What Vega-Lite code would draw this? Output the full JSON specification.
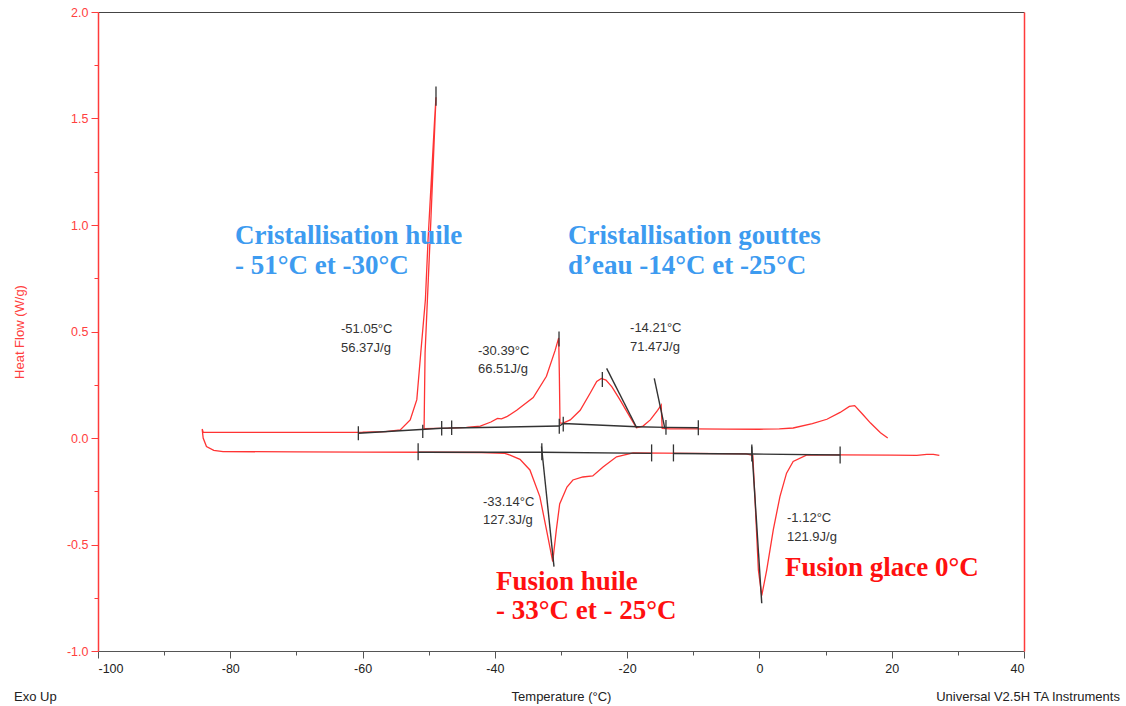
{
  "$schema": "https://vega.github.io/schema/vega-lite/v6.json",
  "width": 926,
  "height": 639,
  "autosize": "none",
  "padding": {"left": 98, "top": 12, "right": 102, "bottom": 55},
  "background": "white",
  "config": {"view": {"stroke": null}, "axis": {"grid": false}},
  "datasets": {
    "dsc": [
      {"o":0,"t":19.4,"v":0.0},{"o":1,"t":18.3,"v":0.025},{"o":2,"t":16.8,"v":0.07},{"o":3,"t":15.5,"v":0.115},
      {"o":4,"t":14.4,"v":0.152},{"o":5,"t":13.6,"v":0.148},{"o":6,"t":12.2,"v":0.12},{"o":7,"t":10.2,"v":0.088},
      {"o":8,"t":8.0,"v":0.068},{"o":9,"t":5.1,"v":0.047},{"o":10,"t":3.0,"v":0.043},{"o":11,"t":0.0,"v":0.041},
      {"o":12,"t":-5.0,"v":0.042},{"o":13,"t":-10.0,"v":0.043},{"o":14,"t":-13.5,"v":0.043},{"o":15,"t":-14.7,"v":0.045},
      {"o":16,"t":-14.78,"v":0.1},{"o":17,"t":-14.85,"v":0.155},{"o":18,"t":-15.4,"v":0.13},{"o":19,"t":-16.5,"v":0.085},
      {"o":20,"t":-17.6,"v":0.056},{"o":21,"t":-18.6,"v":0.048},{"o":22,"t":-19.6,"v":0.1},{"o":23,"t":-21.1,"v":0.18},
      {"o":24,"t":-22.3,"v":0.24},{"o":25,"t":-23.2,"v":0.272},{"o":26,"t":-23.9,"v":0.28},{"o":27,"t":-24.6,"v":0.265},
      {"o":28,"t":-25.6,"v":0.21},{"o":29,"t":-27.1,"v":0.13},{"o":30,"t":-28.6,"v":0.085},{"o":31,"t":-29.7,"v":0.07},
      {"o":32,"t":-30.15,"v":0.07},{"o":33,"t":-30.25,"v":0.3},{"o":34,"t":-30.35,"v":0.47},{"o":35,"t":-30.9,"v":0.41},
      {"o":36,"t":-32.2,"v":0.29},{"o":37,"t":-34.2,"v":0.19},{"o":38,"t":-36.7,"v":0.13},{"o":39,"t":-38.2,"v":0.1},
      {"o":40,"t":-39.0,"v":0.09},{"o":41,"t":-39.6,"v":0.092},{"o":42,"t":-40.6,"v":0.075},{"o":43,"t":-42.2,"v":0.056},
      {"o":44,"t":-44.3,"v":0.05},{"o":45,"t":-47.0,"v":0.046},{"o":46,"t":-50.7,"v":0.044},{"o":47,"t":-50.55,"v":0.4},
      {"o":48,"t":-49.8,"v":0.93},{"o":49,"t":-48.9,"v":1.6},{"o":50,"t":-49.1,"v":1.5},{"o":51,"t":-50.1,"v":0.93},
      {"o":52,"t":-50.5,"v":0.65},{"o":53,"t":-51.2,"v":0.4},{"o":54,"t":-51.8,"v":0.18},{"o":55,"t":-52.8,"v":0.085},
      {"o":56,"t":-54.3,"v":0.038},{"o":57,"t":-56.5,"v":0.03},{"o":58,"t":-60.0,"v":0.027},{"o":59,"t":-70.0,"v":0.026},
      {"o":60,"t":-80.0,"v":0.026},{"o":61,"t":-84.1,"v":0.027},{"o":62,"t":-84.25,"v":0.042},{"o":63,"t":-84.1,"v":0.0},
      {"o":64,"t":-83.6,"v":-0.04},{"o":65,"t":-82.5,"v":-0.058},{"o":66,"t":-81.1,"v":-0.064},{"o":67,"t":-70.0,"v":-0.065},
      {"o":68,"t":-60.0,"v":-0.066},{"o":69,"t":-50.0,"v":-0.067},{"o":70,"t":-42.0,"v":-0.068},{"o":71,"t":-38.5,"v":-0.072},
      {"o":72,"t":-37.7,"v":-0.08},{"o":73,"t":-36.2,"v":-0.1},{"o":74,"t":-34.7,"v":-0.15},{"o":75,"t":-33.2,"v":-0.275},
      {"o":76,"t":-32.2,"v":-0.43},{"o":77,"t":-31.25,"v":-0.58},{"o":78,"t":-30.7,"v":-0.43},{"o":79,"t":-30.2,"v":-0.31},
      {"o":80,"t":-29.1,"v":-0.23},{"o":81,"t":-28.2,"v":-0.197},{"o":82,"t":-26.7,"v":-0.183},{"o":83,"t":-25.2,"v":-0.178},
      {"o":84,"t":-23.6,"v":-0.135},{"o":85,"t":-21.6,"v":-0.088},{"o":86,"t":-19.1,"v":-0.07},{"o":87,"t":-10.0,"v":-0.072},
      {"o":88,"t":-2.0,"v":-0.075},{"o":89,"t":-1.0,"v":-0.082},{"o":90,"t":-0.65,"v":-0.3},{"o":91,"t":-0.16,"v":-0.62},
      {"o":92,"t":0.35,"v":-0.74},{"o":93,"t":1.1,"v":-0.62},{"o":94,"t":2.1,"v":-0.43},{"o":95,"t":3.1,"v":-0.275},
      {"o":96,"t":4.1,"v":-0.165},{"o":97,"t":5.1,"v":-0.11},{"o":98,"t":7.1,"v":-0.08},{"o":99,"t":12.0,"v":-0.079},
      {"o":100,"t":20.0,"v":-0.08},{"o":101,"t":23.8,"v":-0.082},{"o":102,"t":25.3,"v":-0.077},{"o":103,"t":26.3,"v":-0.077},
      {"o":104,"t":27.2,"v":-0.082}
    ],
    "analysis": [
      {"g":"ub","o":0,"t":-60.64,"v":0.022},{"g":"ub","o":1,"t":-48.04,"v":0.046},{"g":"ub","o":2,"t":-46.53,"v":0.047},
      {"g":"ub","o":3,"t":-30.26,"v":0.056},{"g":"ub","o":4,"t":-29.66,"v":0.068},{"g":"ub","o":5,"t":-18.55,"v":0.053},
      {"g":"ub","o":6,"t":-14.13,"v":0.05},{"g":"ub","o":7,"t":-9.24,"v":0.048},
      {"g":"t1","o":0,"t":-23.1,"v":0.327},{"g":"t1","o":1,"t":-18.55,"v":0.048},
      {"g":"t2","o":0,"t":-15.9,"v":0.28},{"g":"t2","o":1,"t":-14.3,"v":0.045},
      {"g":"lb1","o":0,"t":-51.6,"v":-0.067},{"g":"lb1","o":1,"t":-32.95,"v":-0.067},{"g":"lb1","o":2,"t":-16.3,"v":-0.072},
      {"g":"lb2","o":0,"t":-13.0,"v":-0.073},{"g":"lb2","o":1,"t":-1.17,"v":-0.075},{"g":"lb2","o":2,"t":12.2,"v":-0.08},
      {"g":"t3","o":0,"t":-32.95,"v":-0.04},{"g":"t3","o":1,"t":-31.06,"v":-0.604},
      {"g":"t4","o":0,"t":-1.17,"v":-0.04},{"g":"t4","o":1,"t":0.35,"v":-0.776}
    ],
    "marks": [
      {"t":-60.64,"a":-0.01,"b":0.055},{"t":-50.9,"a":0.0,"b":0.062},{"t":-48.04,"a":0.012,"b":0.08},
      {"t":-46.53,"a":0.014,"b":0.082},{"t":-30.26,"a":0.02,"b":0.09},{"t":-29.66,"a":0.03,"b":0.1},
      {"t":-14.13,"a":0.015,"b":0.085},{"t":-9.24,"a":0.013,"b":0.083},{"t":-48.9,"a":1.56,"b":1.65},
      {"t":-30.3,"a":0.43,"b":0.5},{"t":-23.75,"a":0.24,"b":0.31},
      {"t":-51.6,"a":-0.025,"b":-0.105},{"t":-32.9,"a":-0.025,"b":-0.105},{"t":-16.3,"a":-0.03,"b":-0.11},
      {"t":-13.0,"a":-0.03,"b":-0.11},{"t":-1.15,"a":-0.03,"b":-0.11},{"t":12.2,"a":-0.04,"b":-0.12}
    ],
    "labels": [
      {"kind":"value","txt":"-51.05°C","t":-63.26,"v":0.512},{"kind":"value","txt":"56.37J/g","t":-63.26,"v":0.423},
      {"kind":"value","txt":"-30.39°C","t":-42.55,"v":0.408},{"kind":"value","txt":"66.51J/g","t":-42.55,"v":0.324},
      {"kind":"value","txt":"-14.21°C","t":-19.56,"v":0.516},{"kind":"value","txt":"71.47J/g","t":-19.56,"v":0.427},
      {"kind":"value","txt":"-33.14°C","t":-41.8,"v":-0.3},{"kind":"value","txt":"127.3J/g","t":-41.8,"v":-0.385},
      {"kind":"value","txt":"-1.12°C","t":4.17,"v":-0.376},{"kind":"value","txt":"121.9J/g","t":4.17,"v":-0.465},
      {"kind":"cristal","txt":"Cristallisation huile","t":-79.29,"v":0.948},
      {"kind":"cristal","txt":"- 51°C et -30°C","t":-79.29,"v":0.808},
      {"kind":"cristal","txt":"Cristallisation gouttes","t":-28.94,"v":0.948},
      {"kind":"cristal","txt":"d’eau -14°C et -25°C","t":-28.94,"v":0.808},
      {"kind":"fusion","txt":"Fusion huile","t":-39.83,"v":-0.676},
      {"kind":"fusion","txt":"- 33°C et - 25°C","t":-39.83,"v":-0.812},
      {"kind":"fusion","txt":"Fusion glace 0°C","t":3.87,"v":-0.61}
    ]
  },
  "layer": [
    {
      "data": {"name": "dsc"},
      "mark": {"type": "line", "color": "#ff3333", "strokeWidth": 1.3},
      "encoding": {
        "x": {"field": "t", "type": "quantitative",
          "scale": {"domain": [-100, 40], "nice": false, "zero": false},
          "axis": {"orient": "bottom", "values": [-100,-90,-80,-70,-60,-50,-40,-30,-20,-10,0,10,20,30,40],
            "labelExpr": "datum.value % 20 === 0 ? '' + datum.value : ''",
            "tickSize": {"condition": {"test": "datum.value % 20 === 0", "value": 7}, "value": 4},
            "domainColor": "#555", "tickColor": "#555", "labelColor": "#222",
            "labelFont": "Liberation Sans", "labelFontSize": 12.5, "labelPadding": 4,
            "title": "Temperature (°C)", "titleFont": "Liberation Sans", "titleFontWeight": "normal",
            "titleFontSize": 13, "titleColor": "#222", "titlePadding": 16}},
        "y": {"field": "v", "type": "quantitative",
          "scale": {"domain": [-1, 2], "nice": false, "zero": false},
          "axis": {"orient": "left", "values": [-1,-0.75,-0.5,-0.25,0,0.25,0.5,0.75,1,1.25,1.5,1.75,2],
            "labelExpr": "abs(datum.value*2 - round(datum.value*2)) < 0.001 ? replace(format(datum.value, '.1f'), '\u2212', '-') : ''",
            "tickSize": {"condition": {"test": "abs(datum.value*2 - round(datum.value*2)) < 0.001", "value": 7}, "value": 4},
            "domainColor": "#ff3b3b", "tickColor": "#ff3b3b", "labelColor": "#ff4040", "domainWidth": 1.5,
            "labelFont": "Liberation Sans", "labelFontSize": 12.5, "labelPadding": 3,
            "title": "Heat Flow (W/g)", "titleFont": "Liberation Sans", "titleFontWeight": "normal",
            "titleFontSize": 13, "titleColor": "#ff4040", "titlePadding": 40}},
        "order": {"field": "o", "type": "quantitative"}
      }
    },
    {
      "data": {"name": "analysis"},
      "mark": {"type": "line", "color": "#333333", "strokeWidth": 1.4},
      "encoding": {
        "x": {"field": "t", "type": "quantitative",
          "axis": {"orient": "top", "labels": false, "ticks": false, "domainColor": "#444", "title": null}},
        "y": {"field": "v", "type": "quantitative",
          "axis": {"orient": "right", "labels": false, "ticks": false, "domainColor": "#ff3b3b", "domainWidth": 1.5, "title": null}},
        "detail": {"field": "g", "type": "nominal"},
        "order": {"field": "o", "type": "quantitative"}
      }
    },
    {
      "data": {"name": "marks"},
      "mark": {"type": "rule", "color": "#333333", "strokeWidth": 1.3},
      "encoding": {
        "x": {"field": "t", "type": "quantitative", "axis": null},
        "y": {"field": "a", "type": "quantitative", "axis": null},
        "y2": {"field": "b"}
      }
    },
    {
      "data": {"name": "labels"},
      "transform": [{"filter": "datum.kind === 'value'"}],
      "mark": {"type": "text", "align": "left", "baseline": "middle", "font": "Liberation Sans", "fontSize": 13, "color": "#333333"},
      "encoding": {
        "x": {"field": "t", "type": "quantitative", "axis": null},
        "y": {"field": "v", "type": "quantitative", "axis": null},
        "text": {"field": "txt"}
      }
    },
    {
      "data": {"name": "labels"},
      "transform": [{"filter": "datum.kind === 'cristal'"}],
      "mark": {"type": "text", "align": "left", "baseline": "middle", "font": "Liberation Serif", "fontWeight": "bold", "fontSize": 27, "color": "#3d9bf0"},
      "encoding": {
        "x": {"field": "t", "type": "quantitative", "axis": null},
        "y": {"field": "v", "type": "quantitative", "axis": null},
        "text": {"field": "txt"}
      }
    },
    {
      "data": {"name": "labels"},
      "transform": [{"filter": "datum.kind === 'fusion'"}],
      "mark": {"type": "text", "align": "left", "baseline": "middle", "font": "Liberation Serif", "fontWeight": "bold", "fontSize": 27, "color": "#ff1010"},
      "encoding": {
        "x": {"field": "t", "type": "quantitative", "axis": null},
        "y": {"field": "v", "type": "quantitative", "axis": null},
        "text": {"field": "txt"}
      }
    },
    {
      "data": {"values": [{"txt": "Exo Up", "t": -112.7, "v": -1.216}]},
      "mark": {"type": "text", "align": "left", "baseline": "middle", "font": "Liberation Sans", "fontSize": 13, "color": "#222222"},
      "encoding": {
        "x": {"field": "t", "type": "quantitative", "axis": null},
        "y": {"field": "v", "type": "quantitative", "axis": null},
        "text": {"field": "txt"}
      }
    },
    {
      "data": {"values": [{"txt": "Universal V2.5H TA Instruments", "t": 54.5, "v": -1.216}]},
      "mark": {"type": "text", "align": "right", "baseline": "middle", "font": "Liberation Sans", "fontSize": 13, "color": "#222222"},
      "encoding": {
        "x": {"field": "t", "type": "quantitative", "axis": null},
        "y": {"field": "v", "type": "quantitative", "axis": null},
        "text": {"field": "txt"}
      }
    }
  ],
  "resolve": {"axis": {"x": "independent", "y": "independent"}}
}
